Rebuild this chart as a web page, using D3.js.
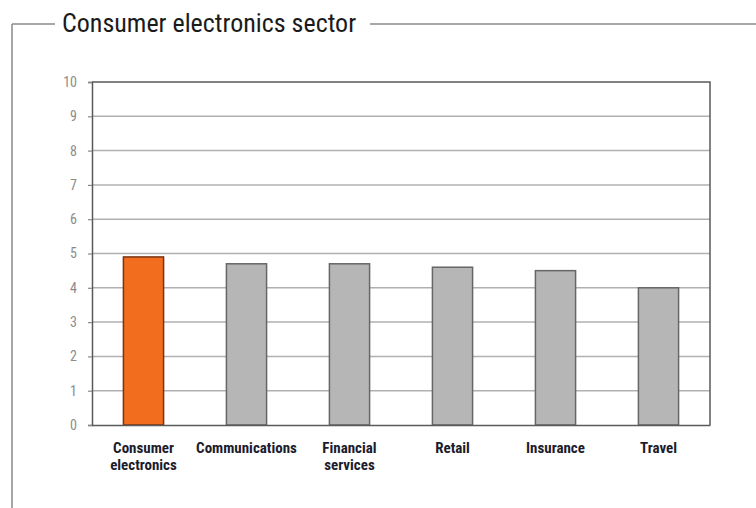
<!DOCTYPE html>
<html>
<head>
<meta charset="utf-8">
<script src="https://cdn.jsdelivr.net/npm/d3@7"></script>
<style>
  html, body { margin: 0; padding: 0; background: #fff; }
  svg { display: block; }
  .narrow { font-family: "Liberation Sans Narrow", "Roboto Condensed", "Arial Narrow", sans-serif; }
</style>
</head>
<body>
<svg id="chart" width="756" height="508"></svg>
<script>
// Sector scores
const categories = [
  ["Consumer", "electronics"],
  ["Communications"],
  ["Financial", "services"],
  ["Retail"],
  ["Insurance"],
  ["Travel"]
];
const scores = [4.9, 4.7, 4.7, 4.6, 4.5, 4.0];
const highlighted = [true, false, false, false, false, false];
const yTicks = [0, 1, 2, 3, 4, 5, 6, 7, 8, 9, 10];
const titleText = "Consumer electronics sector";

const svg = d3.select("#chart");
const W = 756, H = 508;
const plot = { left: 92, right: 710, top: 82, bottom: 425 };

const keys = categories.map(c => c.join(" "));
const x = d3.scaleBand().domain(keys).range([plot.left, plot.right]).paddingInner(0.61).paddingOuter(0.305);
const y = d3.scaleLinear().domain([0, 10]).range([plot.bottom, plot.top]);

// Outer frame with the title set into its top edge
const frame = svg.append("g").attr("stroke", "#8a8a8a").attr("stroke-width", 1.5).attr("fill", "none");
frame.append("line").attr("x1", 12).attr("x2", 55).attr("y1", 24).attr("y2", 24);
frame.append("line").attr("x1", 370).attr("x2", W).attr("y1", 24).attr("y2", 24);
frame.append("line").attr("x1", 12).attr("x2", 12).attr("y1", 24).attr("y2", H);

svg.append("text")
  .attr("class", "narrow")
  .attr("x", 62).attr("y", 32)
  .attr("font-size", 26)
  .attr("fill", "#1b1b1b")
  .text(titleText);

// Horizontal gridlines
svg.append("g")
  .selectAll("line")
  .data(yTicks.filter(t => t > 0 && t < 10))
  .join("line")
  .attr("x1", plot.left).attr("x2", plot.right)
  .attr("y1", d => y(d)).attr("y2", d => y(d))
  .attr("stroke", "#b0b0b0").attr("stroke-width", 1.5);

// Plot border (top and right)
svg.append("path")
  .attr("d", `M${plot.left},${plot.top}H${plot.right}V${plot.bottom}`)
  .attr("fill", "none").attr("stroke", "#5a5a5a").attr("stroke-width", 1.5);

// Bars
svg.append("g")
  .selectAll("rect")
  .data(scores)
  .join("rect")
  .attr("x", (d, i) => x(keys[i]))
  .attr("width", x.bandwidth())
  .attr("y", d => y(d))
  .attr("height", d => y(0) - y(d))
  .attr("fill", (d, i) => highlighted[i] ? "#f26d1d" : "#b6b6b6")
  .attr("stroke", (d, i) => highlighted[i] ? "#7a3210" : "#666")
  .attr("stroke-width", 1.5);

// Y axis
const yAxis = svg.append("g")
  .attr("transform", `translate(${plot.left},0)`)
  .call(d3.axisLeft(y).tickValues(yTicks).tickSize(4).tickPadding(11).tickFormat(d3.format("d")));
yAxis.select(".domain").attr("stroke", "#5a5a5a").attr("stroke-width", 1.5);
yAxis.selectAll(".tick line").attr("stroke", "#888").attr("stroke-width", 1.2);
yAxis.selectAll(".tick text")
  .attr("class", "narrow")
  .attr("font-size", 14)
  .attr("fill", "#8c8c8c");

// X axis
const xAxis = svg.append("g")
  .attr("transform", `translate(0,${plot.bottom})`)
  .call(d3.axisBottom(x).tickSize(0).tickPadding(0).tickFormat(""));
xAxis.select(".domain").attr("stroke", "#5a5a5a").attr("stroke-width", 1.5);
xAxis.selectAll(".tick").each(function(d, i) {
  const t = d3.select(this).select("text")
    .attr("class", "narrow")
    .attr("font-size", 15)
    .attr("font-weight", "bold")
    .attr("fill", "#1c1c2c")
    .attr("y", 28)
    .attr("dy", 0);
  categories[i].forEach((line, j) => {
    t.append("tspan").attr("x", 0).attr("dy", j === 0 ? 0 : 17).text(line);
  });
});
</script>
</body>
</html>
